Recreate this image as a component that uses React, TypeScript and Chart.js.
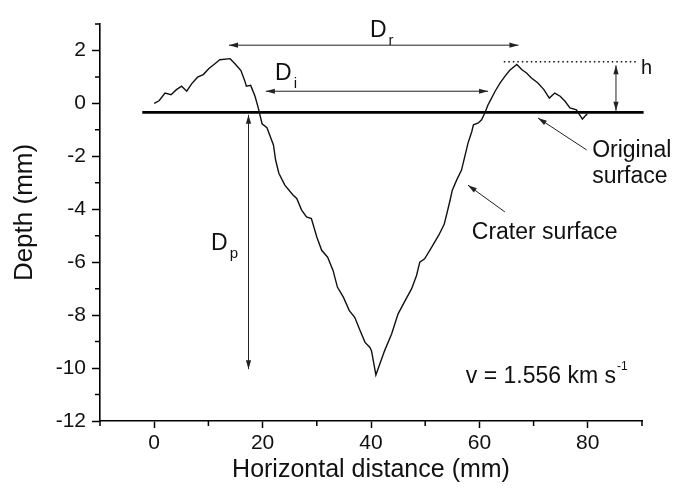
import React, { useEffect, useRef } from "react";
import { Chart, registerables } from "chart.js";

Chart.register(...registerables);

const FONT = '"Liberation Sans", Arial, Helvetica, sans-serif';

// Crater profile (horizontal distance mm, depth mm)
const profileX = [
  0, 0.9, 2.0, 3.1, 4.1, 5.05, 6.0, 6.9, 8.0, 9.05, 10.1, 11.2, 12.1, 14.0, 14.9, 16.0, 16.7, 17.0, 17.8, 18.6,
  19.2, 19.9, 20.8, 22.0, 22.4, 23.0, 24.1, 25.6, 26.3, 27.2, 28.1, 29.0, 30.0, 30.9, 32.0, 33.0, 33.8, 34.9,
  36.0, 37.0, 38.0, 38.9, 39.8, 40.1, 40.9, 42.5, 43.8, 45.0, 46.3, 47.5, 48.4, 49.0, 49.9, 51.2, 52.5, 53.5,
  54.0, 54.6, 55.0, 55.8, 56.7, 57.3, 57.9, 58.6, 58.9, 59.8, 60.4, 61.0, 61.6, 62.1, 62.9, 63.8, 64.7, 65.6,
  66.9, 67.8, 68.7, 69.6, 70.8, 71.9, 72.9, 73.9, 74.9, 75.8, 76.7, 77.9, 79.0, 79.9,
];
const profileY = [
  0.0, 0.1, 0.39, 0.33, 0.52, 0.65, 0.46, 0.74, 0.99, 1.09, 1.32, 1.5, 1.65, 1.69, 1.5, 1.24, 0.86, 0.65, 0.68, 0.27,
  -0.17, -0.77, -0.92, -1.57, -2.14, -2.64, -3.09, -3.46, -3.59, -4.03, -4.29, -4.35, -5.05, -5.55, -5.81, -6.31, -6.94, -7.32,
  -7.83, -8.08, -8.59, -9.03, -9.22, -9.35, -10.26, -9.35, -8.71, -7.95, -7.45, -7.0, -6.5, -6.0, -5.87, -5.43, -4.98, -4.57,
  -4.16, -3.65, -3.28, -2.9, -2.52, -2.01, -1.5, -1.06, -0.81, -0.74, -0.62, -0.36, -0.05, 0.14, 0.46, 0.77, 1.02, 1.25,
  1.47, 1.28, 1.15, 0.96, 0.77, 0.52, 0.2, 0.39, 0.27, 0.08, -0.17, -0.24, -0.59, -0.39,
];

// Original surface line
const surfaceX = [-2.2, 90.3];
const surfaceY = [-0.34, -0.34];

// Dotted rim height reference line
const rimLineX = [64.5, 89];
const rimLineY = [1.57, 1.57];

const xMajorTicks = [0, 20, 40, 60, 80];
const xMinorTicks = [-10, 10, 30, 50, 70, 90];
const yMajorTicks = [-12, -10, -8, -6, -4, -2, 0, 2];
const yMinorTicks = [-11, -9, -7, -5, -3, -1, 1, 3];

const xTitle = "Horizontal distance (mm)";
const yTitle = "Depth (mm)";

// Double-headed dimension arrows [x1, y1, x2, y2] in data units
const dimArrows = [
  [13.8, 2.2, 67.2, 2.2],
  [20.6, 0.46, 61.6, 0.46],
  [17.4, -0.43, 17.4, -10.04],
  [85.2, 1.44, 85.2, -0.28],
];
// Pointer arrows [tailX, tailY, headX, headY]
const pointerArrows = [
  [79.8, -1.76, 70.8, -0.55],
  [64.7, -4.1, 57.9, -3.09],
];

// Labels: main text, subscript, superscript, anchor (data units, left/baseline)
const labelText = ["D", "D", "D", "h", "Original", "surface", "Crater surface", "v = 1.556 km s"];
const labelSub = ["r", "i", "p", "", "", "", "", ""];
const labelSup = ["", "", "", "", "", "", "", "-1"];
const labelX = [39.8, 22.3, 10.5, 89.8, 80.8, 80.8, 58.6, 57.5];
const labelY = [2.49, 0.9, -5.55, 1.12, -2.01, -3.01, -5.11, -10.55];
const labelSize = [23, 23, 23, 20, 23, 23, 23, 23];

function arrowHead(ctx: CanvasRenderingContext2D, x1: number, y1: number, x2: number, y2: number) {
  const a = Math.atan2(y2 - y1, x2 - x1);
  const L = 9;
  const W = 2.6;
  const c = Math.cos(a);
  const s = Math.sin(a);
  ctx.beginPath();
  ctx.moveTo(x2, y2);
  ctx.lineTo(x2 - L * c + W * s, y2 - L * s - W * c);
  ctx.lineTo(x2 - L * c - W * s, y2 - L * s + W * c);
  ctx.closePath();
  ctx.fill();
}

const overlayPlugin = {
  id: "overlay",
  afterDraw(chart: any) {
    const { ctx, chartArea, scales } = chart;
    const xs = scales.x;
    const ys = scales.y;
    ctx.save();
    // minor ticks
    ctx.strokeStyle = "#000";
    ctx.lineWidth = 1.5;
    ctx.beginPath();
    xMinorTicks.forEach((v) => {
      const px = xs.getPixelForValue(v);
      ctx.moveTo(px, chartArea.bottom);
      ctx.lineTo(px, chartArea.bottom + 5);
    });
    yMinorTicks.forEach((v) => {
      const py = ys.getPixelForValue(v);
      ctx.moveTo(chartArea.left, py);
      ctx.lineTo(chartArea.left - 5, py);
    });
    ctx.stroke();

    // y axis title
    ctx.save();
    ctx.fillStyle = "#111";
    ctx.font = `26px ${FONT}`;
    ctx.textAlign = "center";
    ctx.textBaseline = "middle";
    ctx.translate(chartArea.left - 75, (chartArea.top + chartArea.bottom) / 2 - 10);
    ctx.rotate(-Math.PI / 2);
    ctx.fillText(yTitle, 0, 0);
    ctx.restore();

    // arrows
    ctx.strokeStyle = "#222";
    ctx.fillStyle = "#222";
    ctx.lineWidth = 1;
    dimArrows.forEach(([a, b, c, d]) => {
      const x1 = xs.getPixelForValue(a);
      const y1 = ys.getPixelForValue(b);
      const x2 = xs.getPixelForValue(c);
      const y2 = ys.getPixelForValue(d);
      ctx.beginPath();
      ctx.moveTo(x1, y1);
      ctx.lineTo(x2, y2);
      ctx.stroke();
      arrowHead(ctx, x1, y1, x2, y2);
      arrowHead(ctx, x2, y2, x1, y1);
    });
    pointerArrows.forEach(([a, b, c, d]) => {
      const x1 = xs.getPixelForValue(a);
      const y1 = ys.getPixelForValue(b);
      const x2 = xs.getPixelForValue(c);
      const y2 = ys.getPixelForValue(d);
      ctx.beginPath();
      ctx.moveTo(x1, y1);
      ctx.lineTo(x2, y2);
      ctx.stroke();
      arrowHead(ctx, x1, y1, x2, y2);
    });

    // labels
    ctx.fillStyle = "#111";
    ctx.textBaseline = "alphabetic";
    ctx.textAlign = "left";
    labelText.forEach((t, i) => {
      const px = xs.getPixelForValue(labelX[i]);
      const py = ys.getPixelForValue(labelY[i]);
      ctx.font = `${labelSize[i]}px ${FONT}`;
      ctx.fillText(t, px, py);
      const w = ctx.measureText(t).width;
      if (labelSub[i]) {
        ctx.font = `15px ${FONT}`;
        ctx.fillText(labelSub[i], px + w + 2, py + 8);
      }
      if (labelSup[i]) {
        ctx.font = `12px ${FONT}`;
        ctx.fillText(labelSup[i], px + w + 1, py - 13);
      }
    });
    ctx.restore();
  },
};

export default function App() {
  const ref = useRef<HTMLCanvasElement | null>(null);
  useEffect(() => {
    if (!ref.current) return;
    const chart = new Chart(ref.current, {
      type: "scatter",
      data: {
        datasets: [
          {
            data: profileX.map((x, i) => ({ x, y: profileY[i] })),
            showLine: true,
            borderColor: "#111",
            borderWidth: 1.4,
            pointRadius: 0,
            tension: 0,
          },
          {
            data: surfaceX.map((x, i) => ({ x, y: surfaceY[i] })),
            showLine: true,
            borderColor: "#000",
            borderWidth: 2.6,
            pointRadius: 0,
            clip: false,
          },
          {
            data: rimLineX.map((x, i) => ({ x, y: rimLineY[i] })),
            showLine: true,
            borderColor: "#111",
            borderWidth: 1.5,
            borderDash: [1.5, 3],
            pointRadius: 0,
          },
        ],
      } as any,
      options: {
        responsive: false,
        animation: false,
        devicePixelRatio: 1,
        layout: { padding: { left: 0, top: 24, right: 31, bottom: 0 } },
        plugins: { legend: { display: false }, tooltip: { enabled: false } },
        scales: {
          x: {
            type: "linear",
            position: "bottom",
            min: -10,
            max: 90,
            afterBuildTicks: (s: any) => {
              s.ticks = xMajorTicks.map((v) => ({ value: v }));
            },
            afterFit: (s: any) => {
              s.height = 72;
            },
            border: { display: true, color: "#000", width: 1.6 },
            grid: { drawOnChartArea: false, drawTicks: true, tickLength: 7, tickWidth: 1.5, tickColor: "#000" },
            ticks: { font: { size: 21, family: FONT }, color: "#111", padding: 3, maxRotation: 0 },
            title: {
              display: true,
              text: xTitle,
              font: { size: 25, family: FONT },
              color: "#111",
              padding: { top: 0, bottom: 8 },
            },
          },
          y: {
            type: "linear",
            min: -12,
            max: 3,
            afterBuildTicks: (s: any) => {
              s.ticks = yMajorTicks.map((v) => ({ value: v }));
            },
            afterFit: (s: any) => {
              s.width = 100;
            },
            border: { display: true, color: "#000", width: 1.6 },
            grid: { drawOnChartArea: false, drawTicks: true, tickLength: 8, tickWidth: 1.5, tickColor: "#000" },
            ticks: { font: { size: 21, family: FONT }, color: "#111", padding: 6 },
            title: { display: false },
          },
        },
      } as any,
      plugins: [overlayPlugin],
    });
    return () => chart.destroy();
  }, []);
  return (
    <div style={{ position: "absolute", left: 0, top: 0, width: 673, height: 493, background: "#fff" }}>
      <canvas ref={ref} width={673} height={493} />
    </div>
  );
}
